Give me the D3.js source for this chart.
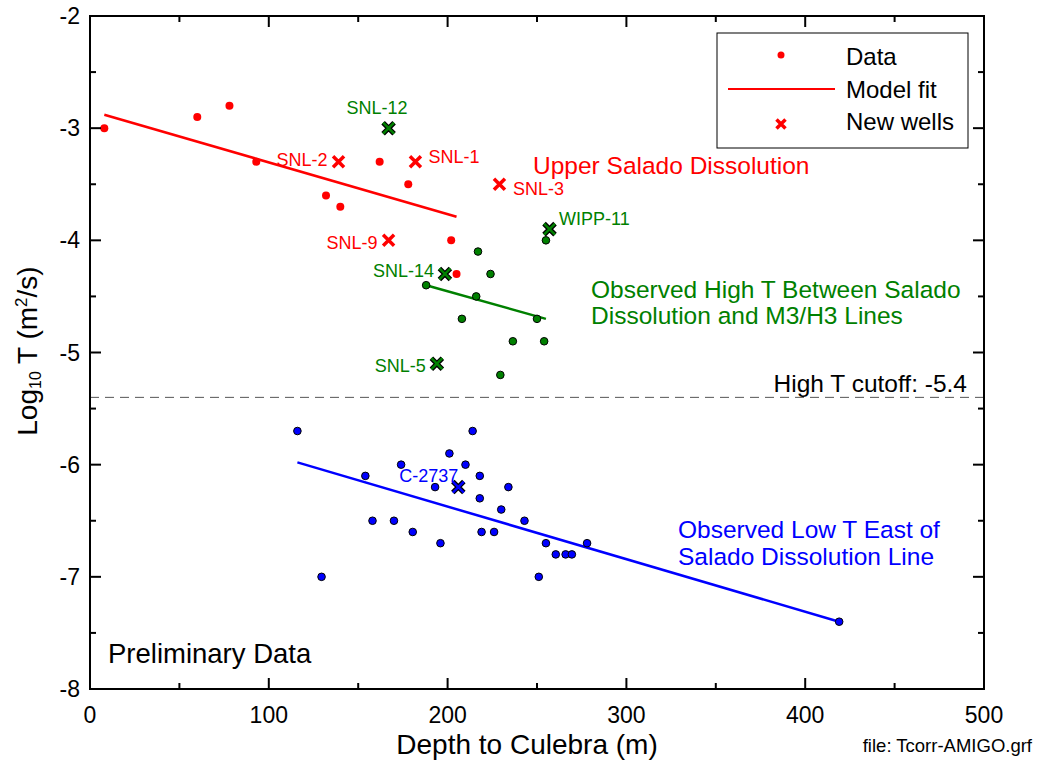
<!DOCTYPE html>
<html>
<head>
<meta charset="utf-8">
<script src="https://cdn.jsdelivr.net/npm/d3@7"></script>
<style>
  body { margin: 0; background: #fff; }
  svg { font-family: "Liberation Sans", Arial, sans-serif; }
</style>
</head>
<body>
<svg width="1040" height="760"></svg>
<script>
// upper group (red)
const redDepth = [8, 60, 78, 93, 132, 140, 162, 178, 202, 205];
const redLogT = [-3.0, -2.9, -2.8, -3.3, -3.6, -3.7, -3.3, -3.5, -4.0, -4.3];
const redFit = [[8, -2.88], [205, -3.79]];

// middle group (green)
const greenDepth = [217, 224, 255, 188, 216, 208, 250, 236.5, 254, 229.5];
const greenLogT = [-4.1, -4.3, -4.0, -4.4, -4.5, -4.7, -4.7, -4.9, -4.9, -5.2];
const greenFit = [[188, -4.4], [255, -4.7]];

// lower group (blue)
const blueDepth = [116, 214, 201, 174, 210, 154, 218, 193, 234, 218, 230, 158, 170, 243,
  180.5, 219, 226, 196, 255, 278, 260.5, 266, 269.5, 129.5, 251, 419];
const blueLogT = [-5.7, -5.7, -5.9, -6.0, -6.0, -6.1, -6.1, -6.2, -6.2, -6.3, -6.4, -6.5, -6.5, -6.5,
  -6.6, -6.6, -6.6, -6.7, -6.7, -6.7, -6.8, -6.8, -6.8, -7.0, -7.0, -7.4];
const blueFit = [[116, -5.98], [419, -7.4]];

// new wells
const wellNames = ["SNL-2", "SNL-1", "SNL-3", "SNL-9", "SNL-12", "WIPP-11", "SNL-14", "SNL-5", "C-2737"];
const wellDepth = [139, 182, 229, 167, 167, 257, 198.5, 194, 206];
const wellLogT = [-3.3, -3.3, -3.5, -4.0, -3.0, -3.9, -4.3, -5.1, -6.2];
const wellGroup = ["red", "red", "red", "red", "green", "green", "green", "green", "blue"];

const xTicks = [0, 100, 200, 300, 400, 500];
const yTicks = [-8, -7, -6, -5, -4, -3, -2];
const cutoff = -5.4;

const svg = d3.select("svg");
const pL = 90, pR = 984, pT = 16, pB = 689;

const x = d3.scaleLinear().domain([0, 500]).range([pL, pR]);
const y = d3.scaleLinear().domain([-8, -2]).range([pB, pT]);

const colors = { red: "#ff0000", green: "#008000", blue: "#0000ff" };

// cutoff line
svg.append("line")
  .attr("x1", x(0)).attr("x2", x(500))
  .attr("y1", y(cutoff)).attr("y2", y(cutoff))
  .attr("stroke", "#555").attr("stroke-width", 1)
  .attr("stroke-dasharray", "9,6");

svg.append("text")
  .attr("x", 967).attr("y", 392)
  .attr("text-anchor", "end")
  .attr("font-size", 24.5)
  .text("High T cutoff: -5.4");

// fit lines
const line = d3.line().x(d => x(d[0])).y(d => y(d[1]));
[[redFit, "red"], [greenFit, "green"], [blueFit, "blue"]].forEach(([pts, c]) => {
  svg.append("path").attr("d", line(pts))
    .attr("fill", "none").attr("stroke", colors[c]).attr("stroke-width", 2.5);
});

// data points
svg.append("g").selectAll("circle")
  .data(d3.zip(redDepth, redLogT)).join("circle")
  .attr("cx", d => x(d[0])).attr("cy", d => y(d[1]))
  .attr("r", 4).attr("fill", colors.red);

svg.append("g").selectAll("circle")
  .data(d3.zip(greenDepth, greenLogT)).join("circle")
  .attr("cx", d => x(d[0])).attr("cy", d => y(d[1]))
  .attr("r", 3.8).attr("fill", colors.green)
  .attr("stroke", "#000").attr("stroke-width", 1);

svg.append("g").selectAll("circle")
  .data(d3.zip(blueDepth, blueLogT)).join("circle")
  .attr("cx", d => x(d[0])).attr("cy", d => y(d[1]))
  .attr("r", 3.8).attr("fill", colors.blue)
  .attr("stroke", "#000").attr("stroke-width", 1);

// X markers
function cross(g, cx, cy, s, color, outline) {
  const d = `M${cx - s},${cy - s}L${cx + s},${cy + s}M${cx - s},${cy + s}L${cx + s},${cy - s}`;
  if (outline) {
    g.append("path").attr("d", d).attr("stroke", "#000").attr("stroke-width", 5);
    g.append("path").attr("d", d).attr("stroke", color).attr("stroke-width", 2.5);
  } else {
    g.append("path").attr("d", d).attr("stroke", color).attr("stroke-width", 3.5);
  }
}

const wells = svg.append("g");
wellNames.forEach((n, i) => {
  const c = wellGroup[i];
  cross(wells, x(wellDepth[i]), y(wellLogT[i]), 5.5, colors[c], c !== "red");
});

// well labels: offset from the marker, baseline-aligned
const labelPos = {
  "SNL-2": [-11, 4, "end"],
  "SNL-1": [13, 1, "start"],
  "SNL-3": [13.5, 11, "start"],
  "SNL-9": [-11, 9, "end"],
  "SNL-12": [-11.5, -14, "middle"],
  "WIPP-11": [9.5, -4, "start"],
  "SNL-14": [-11, 3, "end"],
  "SNL-5": [-11, 8, "end"],
  "C-2737": [-59, -5.5, "start"]
};
wellNames.forEach((n, i) => {
  const [dx, dy, anchor] = labelPos[n];
  svg.append("text")
    .attr("x", x(wellDepth[i]) + dx)
    .attr("y", y(wellLogT[i]) + dy)
    .attr("text-anchor", anchor)
    .attr("font-size", 18)
    .attr("fill", colors[wellGroup[i]])
    .text(n);
});

// region annotations
const notes = [
  ["Upper Salado Dissolution", 533, 174, "red"],
  ["Observed High T Between Salado", 591, 298, "green"],
  ["Dissolution and M3/H3 Lines", 591, 324, "green"],
  ["Observed Low T East of", 678, 538, "blue"],
  ["Salado Dissolution Line", 678, 565, "blue"]
];
notes.forEach(([t, tx, ty, c]) => {
  svg.append("text").attr("x", tx).attr("y", ty)
    .attr("font-size", 24.5).attr("fill", colors[c]).text(t);
});

svg.append("text").attr("x", 108).attr("y", 663)
  .attr("font-size", 27.5).text("Preliminary Data");

// axes
const xMinor = d3.range(50, 500, 100);
const yMinor = d3.range(-7.5, -2, 1);

const frame = svg.append("g").attr("stroke", "#000").attr("stroke-width", 2);
frame.append("rect").attr("x", pL).attr("y", pT)
  .attr("width", pR - pL).attr("height", pB - pT).attr("fill", "none");

xTicks.forEach(v => {
  frame.append("line").attr("x1", x(v)).attr("x2", x(v)).attr("y1", pB).attr("y2", pB - 11);
  frame.append("line").attr("x1", x(v)).attr("x2", x(v)).attr("y1", pT).attr("y2", pT + 11);
});
xMinor.forEach(v => {
  frame.append("line").attr("x1", x(v)).attr("x2", x(v)).attr("y1", pB).attr("y2", pB - 6);
  frame.append("line").attr("x1", x(v)).attr("x2", x(v)).attr("y1", pT).attr("y2", pT + 6);
});
yTicks.forEach(v => {
  frame.append("line").attr("x1", pL).attr("x2", pL + 11).attr("y1", y(v)).attr("y2", y(v));
  frame.append("line").attr("x1", pR).attr("x2", pR - 11).attr("y1", y(v)).attr("y2", y(v));
});
yMinor.forEach(v => {
  frame.append("line").attr("x1", pL).attr("x2", pL + 6).attr("y1", y(v)).attr("y2", y(v));
  frame.append("line").attr("x1", pR).attr("x2", pR - 6).attr("y1", y(v)).attr("y2", y(v));
});

svg.append("g").selectAll("text").data(xTicks).join("text")
  .attr("x", d => x(d)).attr("y", 723)
  .attr("text-anchor", "middle")
  .attr("font-size", 23).text(d => d);

svg.append("g").selectAll("text").data(yTicks).join("text")
  .attr("x", pL - 10).attr("y", d => y(d))
  .attr("dy", "0.35em").attr("text-anchor", "end")
  .attr("font-size", 23).text(d => d);

svg.append("text").attr("x", 527).attr("y", 754)
  .attr("text-anchor", "middle").attr("font-size", 28).text("Depth to Culebra (m)");

const yl = svg.append("text")
  .attr("transform", `translate(37,351) rotate(-90)`)
  .attr("text-anchor", "middle").attr("font-size", 28);
yl.append("tspan").text("Log");
yl.append("tspan").attr("font-size", 16).attr("dy", 4).text("10");
yl.append("tspan").attr("dy", -4).text(" T (m");
yl.append("tspan").attr("font-size", 17).attr("dy", -10).text("2");
yl.append("tspan").attr("dy", 10).text("/s)");

svg.append("text").attr("x", 1032).attr("y", 752)
  .attr("text-anchor", "end").attr("font-size", 18.5).text("file: Tcorr-AMIGO.grf");

// legend
const lg = svg.append("g");
lg.append("rect").attr("x", 717).attr("y", 33).attr("width", 251).attr("height", 115)
  .attr("fill", "#fff").attr("stroke", "#000").attr("stroke-width", 1);
lg.append("circle").attr("cx", 781).attr("cy", 55).attr("r", 3.5).attr("fill", colors.red);
lg.append("line").attr("x1", 728).attr("x2", 835).attr("y1", 89).attr("y2", 89)
  .attr("stroke", colors.red).attr("stroke-width", 2);
cross(lg, 781, 124, 4.5, colors.red, false);
[["Data", 65], ["Model fit", 97.5], ["New wells", 130]].forEach(([t, ty]) => {
  lg.append("text").attr("x", 846).attr("y", ty)
    .attr("font-size", 24).text(t);
});
</script>
</body>
</html>
